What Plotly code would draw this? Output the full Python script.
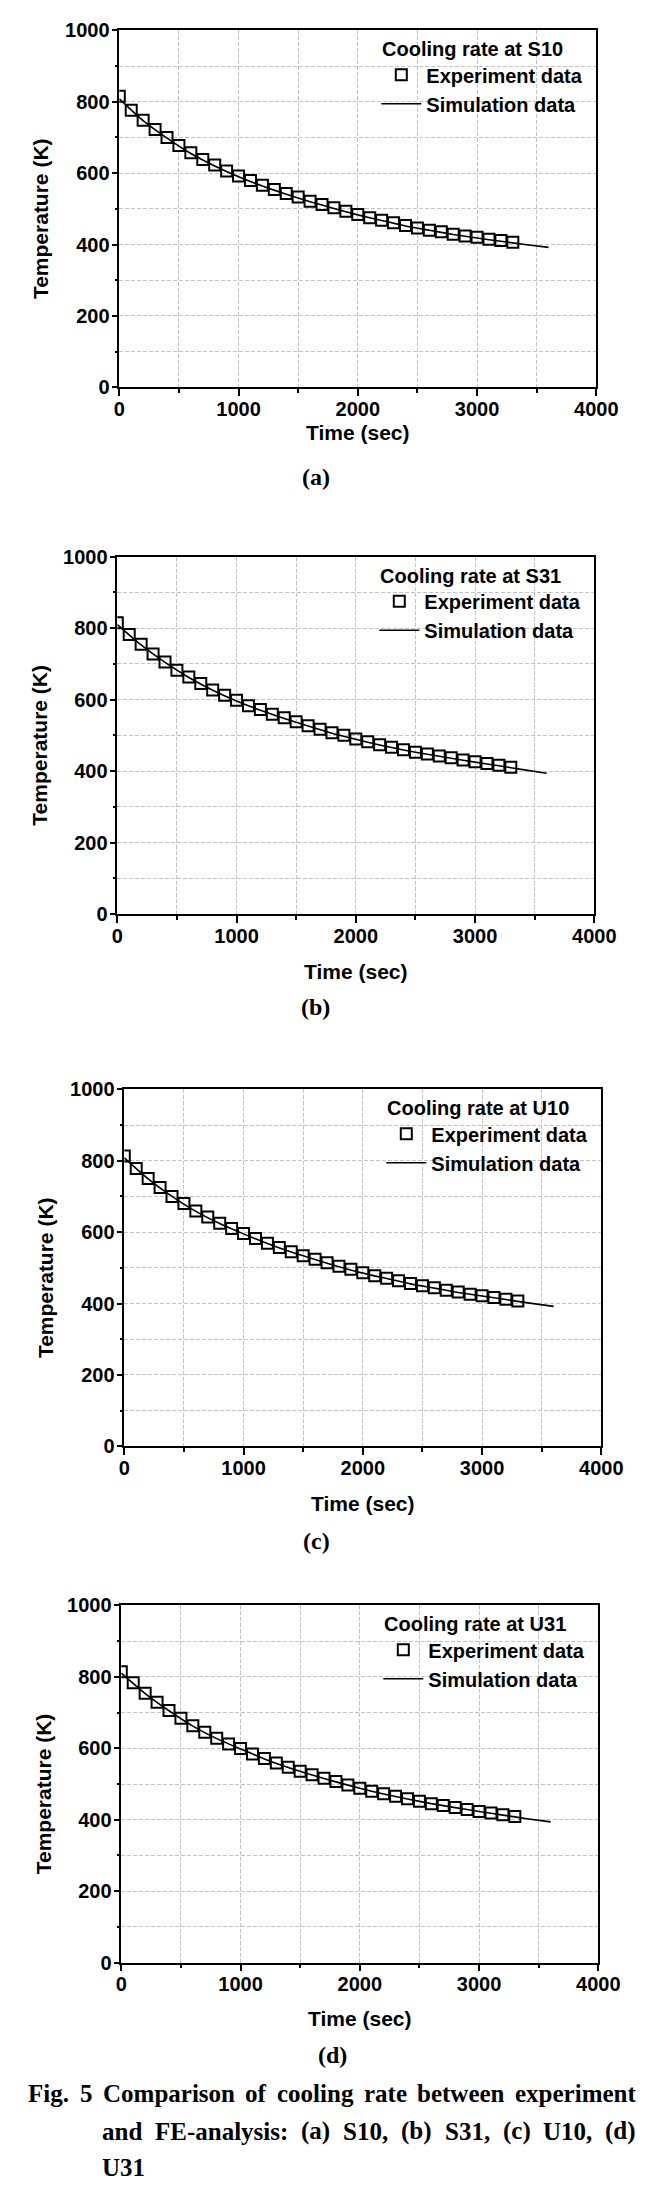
import plotly.graph_objects as go

# ---------------- data ----------------
time_exp = [0, 100, 200, 300, 400, 500, 600, 700, 800, 900, 1000, 1100, 1200, 1300,
            1400, 1500, 1600, 1700, 1800, 1900, 2000, 2100, 2200, 2300, 2400, 2500,
            2600, 2700, 2800, 2900, 3000, 3100, 3200, 3300]

exp_s10 = [815, 776, 748, 722, 700, 677, 657, 638, 623, 606, 592, 579, 566, 554, 543, 533, 521,
           512, 503, 493, 484, 475, 468, 461, 453, 446, 440, 436, 429, 424, 420, 415, 411, 406]
exp_s31 = [815, 782, 755, 728, 705, 682, 663, 645, 627, 612, 598, 583, 572, 559, 549, 538, 527,
           517, 507, 500, 490, 482, 474, 467, 460, 453, 448, 442, 437, 431, 426, 421, 416, 411]
exp_u10 = [813, 778, 750, 725, 700, 680, 659, 642, 625, 610, 596, 582, 569, 557, 545, 534, 524,
           514, 504, 496, 486, 478, 471, 464, 456, 450, 444, 437, 432, 426, 422, 417, 412, 407]
exp_u31 = [814, 783, 754, 729, 706, 684, 663, 645, 628, 612, 599, 584, 571, 559, 547, 536, 526,
           516, 507, 497, 488, 480, 473, 466, 459, 452, 445, 440, 434, 429, 423, 419, 414, 409]

time_sim = [0, 200, 400, 600, 800, 1000, 1200, 1400, 1600, 1800, 2000, 2200, 2400, 2600,
            2800, 3000, 3200, 3400, 3600]
sim_s10 = [808, 747, 698, 655, 620, 590, 564, 541, 520, 501, 483, 467, 452, 440, 428, 418, 409, 400, 392]
sim_s31 = [810, 753, 704, 662, 626, 596, 570, 547, 526, 506, 489, 473, 459, 447, 436, 425, 415, 404, 394]
sim_u10 = [808, 749, 700, 658, 624, 595, 568, 544, 523, 503, 485, 470, 455, 443, 431, 421, 411, 401, 392]
sim_u31 = [810, 753, 705, 662, 627, 598, 570, 546, 525, 506, 488, 472, 458, 445, 434, 423, 413, 403, 394]

locations = ["S10", "S31", "U10", "U31"]
panel_labels = ["(a)", "(b)", "(c)", "(d)"]
x_title = "Time (sec)"
y_title = "Temperature (K)"
exp_name = "Experiment data"
sim_name = "Simulation data"
caption_lines = [
    "Fig. 5 Comparison of cooling rate between experiment",
    "and FE-analysis: (a) S10, (b) S31, (c) U10, (d)",
    "U31",
]

exp_series = [exp_s10, exp_s31, exp_u10, exp_u31]
sim_series = [sim_s10, sim_s31, sim_u10, sim_u31]

# ---------------- layout geometry (pixels) ----------------
W, H = 658, 2194
# plot area boxes: left, right, top, bottom
boxes = [
    (119.3, 596.3, 30.3, 387.3),
    (117.3, 594.3, 556.7, 914.0),
    (124.3, 601.3, 1089.3, 1446.3),
    (121.3, 598.3, 1605.3, 1962.7),
]
xtitle_off = [45, 57, 57, 56]
label_pos = [(316, 477), (315, 1007), (316, 1541), (332, 2055)]
caption_y = [2093, 2131, 2167]

SANS = "Arial, Liberation Sans, sans-serif"
SERIF = "Times New Roman, Liberation Serif, serif"
GRID = "#c4c4c4"


def px(x):
    return x / W


def py(y):
    return 1 - y / H


fig = go.Figure()
layout = dict(
    width=W, height=H,
    margin=dict(l=0, r=0, t=0, b=0, autoexpand=False),
    paper_bgcolor="white", plot_bgcolor="white",
    showlegend=True,
)
annotations = []

for i, (loc, exp_y, sim_y, box) in enumerate(zip(locations, exp_series, sim_series, boxes)):
    n = "" if i == 0 else str(i + 1)
    xa, ya = "x" + n, "y" + n
    leg = "legend" + n
    left, right, top, bottom = box

    fig.add_trace(go.Scatter(
        x=time_sim, y=sim_y, mode="lines", name=sim_name,
        xaxis=xa, yaxis=ya, legend=leg, legendrank=2,
        line=dict(color="black", width=1.6, shape="spline", smoothing=0.6),
    ))
    fig.add_trace(go.Scatter(
        x=time_exp, y=exp_y, mode="markers", name=exp_name,
        xaxis=xa, yaxis=ya, legend=leg, legendrank=1,
        marker=dict(symbol="square-open", size=11, color="black", line=dict(width=2, color="black")),
    ))

    common = dict(
        showline=True, linecolor="black", linewidth=1.5, mirror=True,
        ticks="outside", tickcolor="black", tickwidth=1.5,
        showgrid=True, gridcolor=GRID, gridwidth=1, griddash="4px,2px",
        zeroline=False, automargin=False,
        tickfont=dict(family=SANS, size=20, color="black", weight="bold"),
    )
    layout["xaxis" + n] = dict(
        common, domain=[px(left), px(right)], anchor=ya,
        range=[0, 4000], tick0=0, dtick=1000, ticklen=7, ticklabelstandoff=-4,
        minor=dict(dtick=500, ticks="outside", ticklen=4, tickwidth=1.5, tickcolor="black",
                   showgrid=True, gridcolor=GRID, gridwidth=1, griddash="4px,2px"),
    )
    layout["yaxis" + n] = dict(
        common, domain=[py(bottom), py(top)], anchor=xa,
        range=[0, 1000], tick0=0, dtick=200, ticklen=6, ticklabelstandoff=-2,
        minor=dict(dtick=100, ticks="outside", ticklen=3, tickwidth=1.5, tickcolor="black",
                   showgrid=True, gridcolor=GRID, gridwidth=1, griddash="4px,2px"),
    )
    layout[leg] = dict(
        x=px(left + 257), y=py(top + 25), xanchor="left", yanchor="top",
        xref="paper", yref="paper",
        bgcolor="rgba(0,0,0,0)", borderwidth=0,
        font=dict(family=SANS, size=20, color="black", weight="bold"),
        itemwidth=40, tracegroupgap=0, traceorder="normal",
    )

    # legend heading
    annotations.append(dict(
        text="Cooling rate at " + loc, x=px(left + 262), y=py(top + 19),
        xref="paper", yref="paper", showarrow=False, xanchor="left", yanchor="middle",
        borderpad=0,
        font=dict(family=SANS, size=20, color="black", weight="bold"),
    ))
    # axis titles
    annotations.append(dict(
        text=x_title, x=px((left + right) / 2), y=py(bottom + xtitle_off[i]),
        xref="paper", yref="paper", showarrow=False, xanchor="center", yanchor="middle",
        font=dict(family=SANS, size=21, color="black", weight="bold"),
    ))
    annotations.append(dict(
        text=y_title, x=px(left - 78), y=py((top + bottom) / 2 + 10),
        xref="paper", yref="paper", showarrow=False, xanchor="center", yanchor="middle",
        textangle=-90,
        font=dict(family=SANS, size=21, color="black", weight="bold"),
    ))
    lx, lyy = label_pos[i]
    annotations.append(dict(
        text=panel_labels[i], x=px(lx), y=py(lyy),
        xref="paper", yref="paper", showarrow=False, xanchor="center", yanchor="middle",
        font=dict(family=SERIF, size=24, color="black", weight="bold"),
    ))

# ---------------- justified caption ----------------
TB = {" ": 250, "(": 333, ")": 333, ",": 250, "-": 333, ".": 250, ":": 333,
      "C": 722, "E": 667, "F": 611, "S": 556, "U": 722,
      "a": 500, "b": 556, "c": 444, "d": 556, "e": 444, "f": 333, "g": 500, "h": 556,
      "i": 278, "l": 278, "m": 833, "n": 556, "o": 500, "p": 556, "r": 444, "s": 389,
      "t": 333, "w": 722, "x": 500, "y": 500}
CAP_SIZE = 25


def wwidth(word):
    return sum(TB.get(c, 500) for c in word) / 1000 * CAP_SIZE


def cap_word(text, x, yc):
    annotations.append(dict(
        text=text, x=px(x), y=py(yc), xref="paper", yref="paper", showarrow=False,
        xanchor="left", yanchor="middle", borderpad=0,
        font=dict(family=SERIF, size=CAP_SIZE, color="black", weight="bold"),
    ))


def justify(words, x0, x1, yc):
    tot = sum(wwidth(w) for w in words)
    gap = (x1 - x0 - tot) / (len(words) - 1)
    x = x0
    for w in words:
        cap_word(w, x, yc)
        x += wwidth(w) + gap


justify(caption_lines[0].split(" "), 27, 635, caption_y[0])
justify(caption_lines[1].split(" "), 101, 635, caption_y[1])
cap_word(caption_lines[2], 101, caption_y[2])

layout["annotations"] = annotations
fig.update_layout(**layout)
fig.write_html("out.html", config={"displayModeBar": False},
               post_script="document.body.style.margin='0';")
